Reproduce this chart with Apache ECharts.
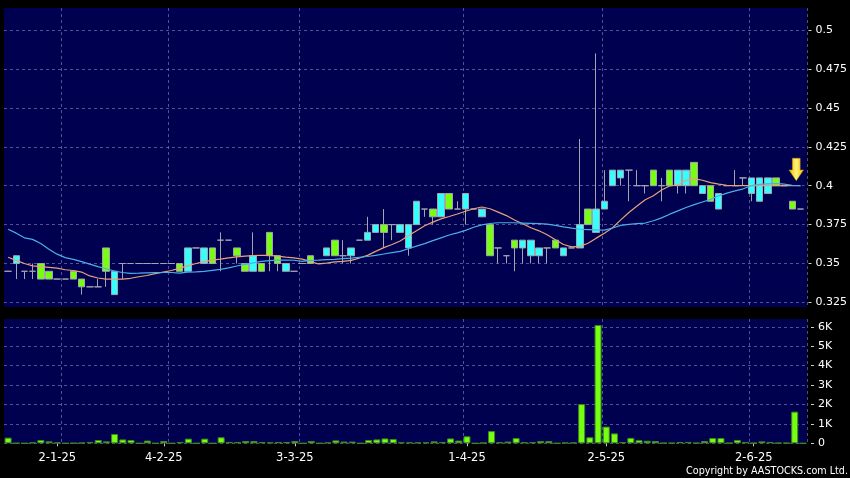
<!DOCTYPE html>
<html><head><meta charset="utf-8">
<script src="https://cdn.jsdelivr.net/npm/echarts@6/dist/echarts.min.js"></script>
<style>html,body{margin:0;padding:0;background:#000;}#c{width:850px;height:478px;}</style>
</head><body><div id="c"></div>
<script>
// ---- data ----
const opens  = [.345,.35,.345,.345,.35,.345,.34,.34,.345,.34, .335,.335,.36,.33,.35,.35,.35,.35,.35,.35,
  .35,.35,.345,.36,.35,.36,.365,.365,.36,.35, .345,.35,.37,.355,.345,.345,.35,.355,.35,.355,
  .365,.355,.355,.365,.365,.37,.375,.375,.37,.36, .375,.385,.385,.38,.395,.385,.385,.385,.38,.375,
  .36,.355,.365,.36,.355,.355,.36,.365,.355,.36, .36,.385,.37,.385,.40,.405,.41,.40,.40,.41,
  .40,.41,.40,.40,.415,.395,.40,.385,.40,.40, .405,.395,.39,.395,.405,.40,.39,.385];
const closes = [.345,.355,.345,.345,.34,.34,.34,.34,.34,.335, .335,.335,.345,.345,.35,.35,.35,.35,.35,.35,
  .35,.345,.36,.36,.36,.35,.365,.365,.355,.345, .355,.345,.355,.35,.35,.345,.35,.35,.35,.36,
  .355,.355,.36,.365,.37,.375,.37,.375,.375,.375, .39,.385,.38,.395,.385,.385,.395,.385,.385,.355,
  .36,.355,.36,.365,.365,.36,.36,.36,.36,.36, .375,.375,.385,.39,.41,.41,.41,.40,.40,.40,
  .40,.40,.41,.41,.40,.40,.39,.395,.40,.40, .405,.405,.405,.405,.40,.40,.385,.385];
const lows   = [.345,.34,.34,.34,.34,.34,.34,.34,.34,.33, .335,.335,.335,.33,.34,.35,.35,.35,.35,.35,
  .35,.345,.345,.36,.35,.35,.345,.365,.35,.345, .345,.345,.345,.345,.345,.345,.35,.35,.35,.355,
  .355,.35,.35,.365,.365,.37,.36,.365,.37,.355, .375,.38,.375,.38,.385,.385,.375,.385,.38,.355,
  .35,.35,.345,.35,.35,.35,.35,.36,.355,.36, .36,.375,.37,.385,.40,.40,.39,.40,.395,.40,
  .39,.40,.395,.395,.40,.395,.39,.385,.40,.40, .40,.39,.39,.395,.40,.40,.385,.385];
const highs  = [.345,.355,.345,.35,.35,.345,.34,.34,.345,.34, .335,.34,.36,.345,.35,.35,.35,.35,.35,.35,
  .35,.35,.36,.36,.36,.36,.37,.365,.36,.35, .37,.35,.37,.355,.35,.345,.35,.355,.35,.36,
  .365,.365,.36,.365,.38,.375,.385,.375,.375,.375, .39,.385,.385,.395,.395,.39,.395,.385,.385,.375,
  .36,.355,.365,.365,.365,.36,.36,.365,.36,.36, .43,.385,.485,.41,.41,.41,.41,.41,.40,.41,
  .405,.41,.41,.41,.415,.40,.40,.395,.40,.41, .405,.405,.405,.405,.405,.40,.39,.385];
const volumes = [290,10,0,50,170,100,50,0,10,30, 70,170,100,480,200,170,0,140,0,120,
  0,70,240,0,240,0,310,70,70,120, 120,70,50,70,70,120,0,120,0,50,
  150,90,90,0,170,200,250,220,50,50, 50,50,100,70,250,140,360,0,30,630,
  60,90,270,60,60,120,120,0,40,40, 2020,310,6090,860,510,60,280,160,130,120,
  20,20,70,70,20,120,270,270,20,170, 70,20,100,70,20,20,1630,0];
const maShort = [.354,.352,.350,.3485,.348,.3475,.347,.346,.3455,.3445,
  .342,.3407,.340,.340,.340,.3405,.3415,.3423,.3435,.3445,
  .3455,.347,.3485,.350,.3512,.3522,.3528,.3536,.3543,.3547,
  .355,.3553,.3552,.3547,.3541,.3536,.3528,.3514,.3497,.3503,
  .3511,.3514,.352,.3535,.3552,.3578,.3602,.3622,.3645,.3678,
  .371,.3743,.3766,.3787,.3802,.3818,.3836,.3852,.3863,.3852,
  .383,.3808,.378,.3755,.373,.371,.3685,.3653,.3622,.3607,
  .361,.363,.3663,.3695,.373,.378,.3828,.3869,.391,.3935,
  .3972,.3998,.4005,.4035,.4045,.4035,.402,.401,.4003,.40,
  .40,.40,.40,.40,.40,.40,.40,.40];
const maLong = [.372,.3695,.3665,.3655,.3628,.3592,.356,.3538,.3527,.3512,
  .3496,.348,.3466,.3452,.3442,.3437,.3438,.344,.3441,.3442,
  .3442,.3438,.3444,.3446,.345,.3456,.3462,.3472,.3484,.3494,
  .3504,.3514,.3519,.3522,.3522,.3521,.3514,.352,.3522,.3525,
  .3527,.3531,.3535,.354,.3545,.3552,.3561,.357,.3578,.3595,
  .3612,.3628,.3647,.3665,.3683,.3697,.3713,.3733,.3748,.3757,
  .3762,.3762,.3762,.376,.3758,.3756,.3753,.3745,.3735,.3727,
  .372,.3718,.3716,.3715,.3728,.3745,.3752,.3756,.376,.3775,
  .3793,.3817,.3838,.386,.3878,.3895,.3912,.3935,.3952,.3967,
  .398,.40,.4008,.4012,.4015,.401,.4003,.40];
const categories = opens.map((_, i) => String(i));
const labelSlots = [6, 19, 35, 56, 73, 91];
const labelTexts = ['2-1-25', '4-2-25', '3-3-25', '1-4-25', '2-5-25', '2-6-25'];
const monthStartSlots = [7, 20, 36, 56, 73, 91];
const priceTicks = { min: 0.325, max: 0.5, step: 0.025 };
const volTicks = { min: 0, max: 6400, step: 1000 };

// ---- chart ----
const NAVY = '#000050';
const GRIDC = 'rgba(150,150,200,0.55)';
const FONT = '"DejaVu Sans", Verdana, sans-serif';
const candleData = opens.map((o, i) => [o, closes[i], lows[i], highs[i]]);
const isLabel = (i) => labelSlots.indexOf(i) >= 0;
const isSplit = (i) => monthStartSlots.indexOf(i) >= 0;
const dashed = { color: GRIDC, type: [3, 3], width: 1 };

const chart = echarts.init(document.getElementById('c'), null, { renderer: 'canvas' });
chart.setOption({
  backgroundColor: '#000',
  animation: false,
  title: {
    text: 'Copyright by AASTOCKS.com Ltd.', right: 2, bottom: 1, padding: 0,
    textStyle: { color: '#fff', fontSize: 10.7, fontWeight: 'normal',
      fontFamily: '"DejaVu Sans Condensed", "Liberation Sans Narrow", "DejaVu Sans", sans-serif' }
  },
  grid: [
    { left: 4, top: 8, width: 803, height: 299, show: true, backgroundColor: NAVY, borderWidth: 0 },
    { left: 4, top: 30.1, width: 803, height: 272.3, show: false },
    { left: 4, top: 319, width: 803, height: 124.3, show: true, backgroundColor: NAVY, borderWidth: 0 }
  ],
  xAxis: [
    { gridIndex: 0, type: 'category', data: categories, boundaryGap: true,
      axisLine: { show: false }, axisTick: { show: false }, axisLabel: { show: false },
      splitLine: { show: true, interval: isSplit, lineStyle: dashed } },
    { gridIndex: 1, type: 'category', data: categories, boundaryGap: true,
      axisLine: { show: false }, axisTick: { show: false }, axisLabel: { show: false },
      splitLine: { show: false } },
    { gridIndex: 2, type: 'category', data: categories, boundaryGap: true, offset: 3,
      axisLine: { show: false },
      axisTick: { show: true, alignWithLabel: true, interval: isLabel, length: 3, lineStyle: { color: '#ccc' } },
      axisLabel: { show: true, interval: isLabel, color: '#fff', fontSize: 11.5, fontFamily: FONT, margin: 6,
        formatter: (v, i) => { const k = labelSlots.indexOf(i); return k >= 0 ? labelTexts[k] : ''; } },
      splitLine: { show: true, interval: isSplit, lineStyle: dashed } }
  ],
  yAxis: [
    { gridIndex: 0, type: 'value', min: 0, max: 1, show: false },
    { gridIndex: 1, type: 'value', position: 'right', min: priceTicks.min, max: priceTicks.max,
      interval: priceTicks.step, offset: 4,
      axisLine: { show: false },
      axisTick: { show: true, length: 3, lineStyle: { color: '#ccc' } },
      axisLabel: { color: '#fff', fontSize: 11, fontFamily: FONT, margin: 7 },
      splitLine: { show: true, lineStyle: dashed } },
    { gridIndex: 2, type: 'value', position: 'right', min: volTicks.min, max: volTicks.max,
      interval: volTicks.step, offset: 4,
      axisLine: { show: false },
      axisTick: { show: true, length: 3, lineStyle: { color: '#ccc' } },
      axisLabel: { color: '#fff', fontSize: 11, fontFamily: FONT, margin: 7, showMaxLabel: false,
        formatter: (v) => v === 0 ? '0' : (v / 1000) + 'K' },
      splitLine: { show: true, showMaxLine: false, lineStyle: dashed } }
  ],
  series: [
    { type: 'candlestick', xAxisIndex: 1, yAxisIndex: 1, data: candleData, barWidth: 7,
      itemStyle: { color: '#33FFFF', color0: '#77FF11', borderColor: '#a4a4ae', borderColor0: '#a4a4ae',
        borderColorDoji: '#a4a4ae', borderWidth: 1 },
      markPoint: {
        silent: true, animation: false,
        data: [{ coord: [96, 0.4104], symbolOffset: [4, 0],
          symbol: 'path://M3.3,0 L11,0 L11,11.7 L14.3,11.7 L7.15,22.4 L0,11.7 L3.3,11.7 Z',
          symbolSize: [14.5, 22.5],
          itemStyle: { color: new echarts.graphic.LinearGradient(0, 0, 1, 0, [
            { offset: 0, color: '#F2B800' }, { offset: 0.5, color: '#FFF27A' }, { offset: 1, color: '#F2B800' }]),
            borderColor: '#C89400', borderWidth: 0.5 },
          label: { show: false } }]
      } },
    { type: 'line', xAxisIndex: 1, yAxisIndex: 1, data: maShort, symbol: 'none', smooth: false,
      lineStyle: { color: '#E8A07A', width: 1.2 }, z: 3 },
    { type: 'line', xAxisIndex: 1, yAxisIndex: 1, data: maLong, symbol: 'none', smooth: false,
      lineStyle: { color: '#4AAEE8', width: 1.2 }, z: 3 },
    { type: 'bar', xAxisIndex: 2, yAxisIndex: 2, data: volumes, barWidth: 7,
      itemStyle: { color: '#77FF11', borderColor: '#3C8A1A', borderWidth: 1 } }
  ]
});
</script></body></html>
